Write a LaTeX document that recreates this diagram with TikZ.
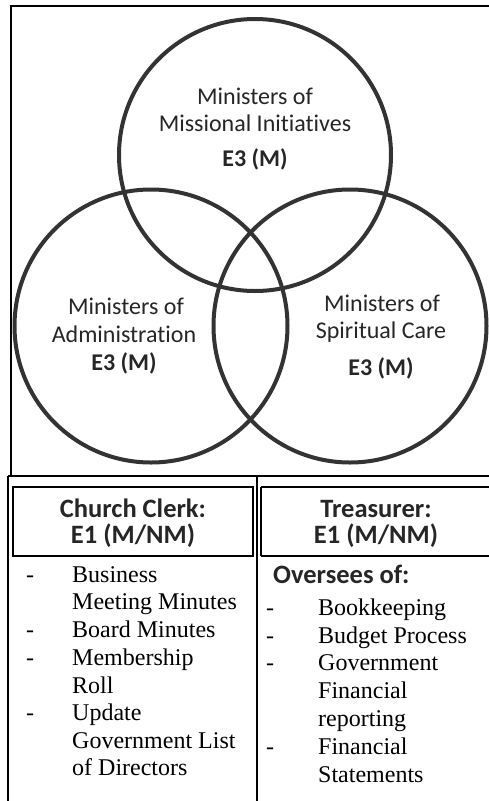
\documentclass[tikz,border=0pt]{standalone}
\usepackage{fontspec}
\setmainfont{Liberation Serif}
\newfontfamily\calfont[Ligatures={NoCommon}]{Carlito}
\definecolor{ink}{HTML}{333333}
\begin{document}
\begin{tikzpicture}[x=1pt,y=-1pt,
  frame/.style={draw=black,line width=1.6pt},
  thin/.style={draw=black,line width=1.1pt},
  ring/.style={draw=ink,line width=4pt},
  ctext/.style={anchor=base,inner sep=0pt,font=\calfont\fontsize{24}{28}\selectfont,text=black!85},
  cbold/.style={ctext,font=\calfont\bfseries\fontsize{24}{28}\selectfont},
  hdr/.style={anchor=base,inner sep=0pt,font=\calfont\bfseries\fontsize{26.5}{30}\selectfont,text=black!85},
  item/.style={anchor=base west,inner sep=0pt,font=\fontsize{24}{28}\selectfont},
  dashmark/.style={anchor=base,inner sep=0pt,font=\fontsize{24}{28}\selectfont}]
\useasboundingbox (0,0) rectangle (489,801);
\fill[white] (0,0) rectangle (489,801);
% outer frames
\draw[frame] (11,476) -- (11,6) -- (489,6);
\draw[frame] (8,476) -- (489,476);
\draw[frame] (8,476) -- (8,801);
\draw[frame] (257,476) -- (257,801);
% header boxes
\draw[thin] (13,487) rectangle (253,556);
\draw[thin] (261,487) -- (490,487);
\draw[thin] (261,556) -- (490,556);
\draw[thin] (261,487) -- (261,556);
% circles
\draw[ring] (255,155) circle (136);
\draw[ring] (151,326) circle (136.5);
\draw[ring] (350,326) circle (136.5);
% circle texts
\node[ctext] (t1) at (255,104) {Ministers of};
\node[ctext] (t2) at (255,131) {Missional Initiatives};
\node[cbold] (t3) at (255,166) {E3 (M)};
\node[ctext] (l1) at (126,314) {Ministers of};
\node[ctext] (l2) at (124,342) {Administration};
\node[cbold] (l3) at (124,370) {E3 (M)};
\node[ctext] (r1) at (382,311) {Ministers of};
\node[ctext] (r2) at (381,338) {Spiritual Care};
\node[cbold] (r3) at (381,375) {E3 (M)};
% headers
\node[hdr] (h1) at (133,517) {Church Clerk:};
\node[hdr] (h2) at (133,543) {E1 (M/NM)};
\node[hdr] (h3) at (376,517) {Treasurer:};
\node[hdr] (h4) at (376,543) {E1 (M/NM)};
% left list
\node[dashmark] (d1) at (30,582) {-};
\node[item] (a1) at (72,582) {Business};
\node[item] (a2) at (72,609) {Meeting Minutes};
\node[dashmark] (d2) at (30,637) {-};
\node[item] (a3) at (72,637) {Board Minutes};
\node[dashmark] (d3) at (30,665) {-};
\node[item] (a4) at (72,665) {Membership};
\node[item] (a5) at (72,693) {Roll};
\node[dashmark] (d4) at (30,720) {-};
\node[item] (a6) at (72,720) {Update};
\node[item] (a7) at (72,748) {Government List};
\node[item] (a8) at (72,775) {of Directors};
% right list
\node[anchor=base west,inner sep=0pt,font=\calfont\bfseries\fontsize{26.5}{30}\selectfont,text=black!85] (ov) at (273,583) {Oversees of:};
\node[dashmark] (e1) at (270,615) {-};
\node[item] (b1) at (318,615) {Bookkeeping};
\node[dashmark] (e2) at (270,643) {-};
\node[item] (b2) at (318,643) {Budget Process};
\node[dashmark] (e3) at (270,670) {-};
\node[item] (b3) at (318,670) {Government};
\node[item] (b4) at (318,698) {Financial};
\node[item] (b5) at (318,726) {reporting};
\node[dashmark] (e4) at (270,754) {-};
\node[item] (b6) at (318,754) {Financial};
\node[item] (b7) at (318,782) {Statements};
\end{tikzpicture}
\end{document}
